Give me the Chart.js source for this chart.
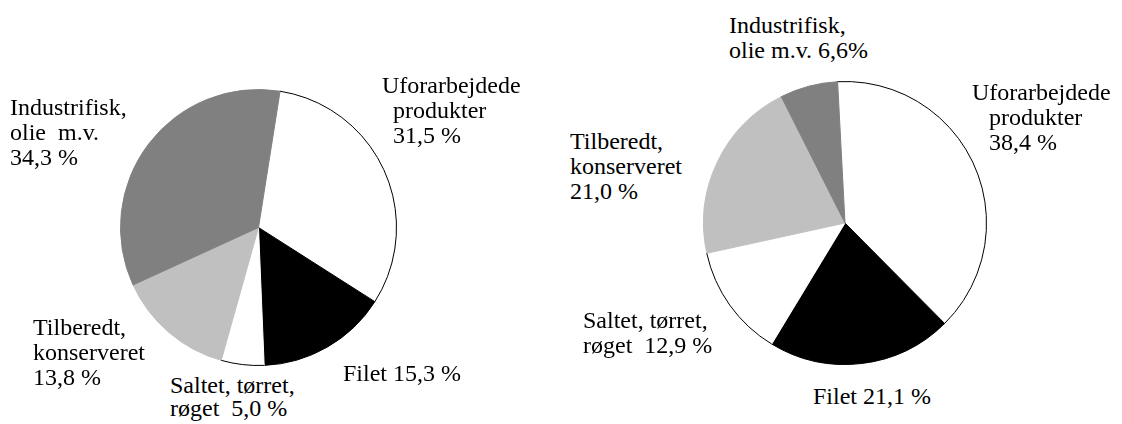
<!DOCTYPE html>
<html>
<head>
  <meta charset="UTF-8" />
  <title>Fiskeeksport fordelt på varegrupper</title>
  <script src="https://cdn.jsdelivr.net/npm/chart.js"></script>
  <style>
    body {
      margin: 0;
      background: #fff;
      width: 1122px;
      height: 424px;
      position: relative;
      overflow: hidden;
    }
    .pie {
      position: absolute;
    }
    .lbl {
      position: absolute;
      white-space: pre;
      font-family: 'Liberation Serif';
      font-size: 24px;
      line-height: 25px;
      color: #000;
    }
    .ind { padding-left: 11px; }
    .ind2 { padding-left: 17px; }
  </style>
</head>
<body>

<div class="pie" style="left:120px; top:89px; width:277px; height:277px;">
  <canvas id="leftPie"></canvas>
</div>
<div class="pie" style="left:703px; top:81px; width:284px; height:284px;">
  <canvas id="rightPie"></canvas>
</div>

<!-- labels, left pie -->
<div class="lbl" style="left:10px; top:95px;">Industrifisk,<br>olie  m.v.<br>34,3 %</div>
<div class="lbl" style="left:382px; top:73px;">Uforarbejdede<br><span class="ind">produkter</span><br><span class="ind">31,5 %</span></div>
<div class="lbl" style="left:33px; top:315px;">Tilberedt,<br>konserveret<br>13,8 %</div>
<div class="lbl" style="left:170px; top:374px; line-height:23px;">Saltet, tørret,<br>røget  5,0 %</div>
<div class="lbl" style="left:343px; top:361px;">Filet 15,3 %</div>

<!-- labels, right pie -->
<div class="lbl" style="left:729px; top:13px;">Industrifisk,<br>olie m.v. 6,6%</div>
<div class="lbl" style="left:972px; top:80px;">Uforarbejdede<br><span class="ind2">produkter</span><br><span class="ind2">38,4 %</span></div>
<div class="lbl" style="left:570px; top:129px;">Tilberedt,<br>konserveret<br>21,0 %</div>
<div class="lbl" style="left:583px; top:308px;">Saltet, tørret,<br>røget  12,9 %</div>
<div class="lbl" style="left:813px; top:384px;">Filet 21,1 %</div>

<script>
const categories = ["Uforarbejdede produkter", "Filet", "Saltet, tørret, røget", "Tilberedt, konserveret", "Industrifisk, olie m.v."];
const leftShares = [31.5, 15.3, 5.0, 13.8, 34.3];
const rightShares = [38.4, 21.1, 12.9, 21.0, 6.6];
const sliceColors = ["#ffffff", "#000000", "#ffffff", "#c0c0c0", "#808080"];

// outline only on the white slices, like the original print
const whiteOutline = {
  id: 'whiteOutline',
  afterDatasetsDraw(chart) {
    const ctx = chart.ctx;
    const meta = chart.getDatasetMeta(0);
    ctx.save();
    ctx.strokeStyle = "#000";
    ctx.lineWidth = 1;
    meta.data.forEach((arc, i) => {
      if (sliceColors[i] !== "#ffffff") return;
      ctx.beginPath();
      ctx.arc(arc.x, arc.y, arc.outerRadius, arc.startAngle, arc.endAngle);
      ctx.stroke();
    });
    ctx.restore();
  }
};

function makePie(id, values, rotation) {
  return new Chart(document.getElementById(id), {
    type: 'pie',
    data: {
      labels: categories,
      datasets: [{
        data: values,
        backgroundColor: sliceColors,
        borderColor: sliceColors,
        borderWidth: 1
      }]
    },
    options: {
      responsive: true,
      maintainAspectRatio: false,
      animation: false,
      rotation: rotation,
      layout: { padding: 0 },
      plugins: {
        legend: { display: false },
        tooltip: { enabled: false }
      }
    },
    plugins: [whiteOutline]
  });
}

makePie("leftPie", leftShares, 9);
makePie("rightPie", rightShares, -3);
</script>
</body>
</html>
